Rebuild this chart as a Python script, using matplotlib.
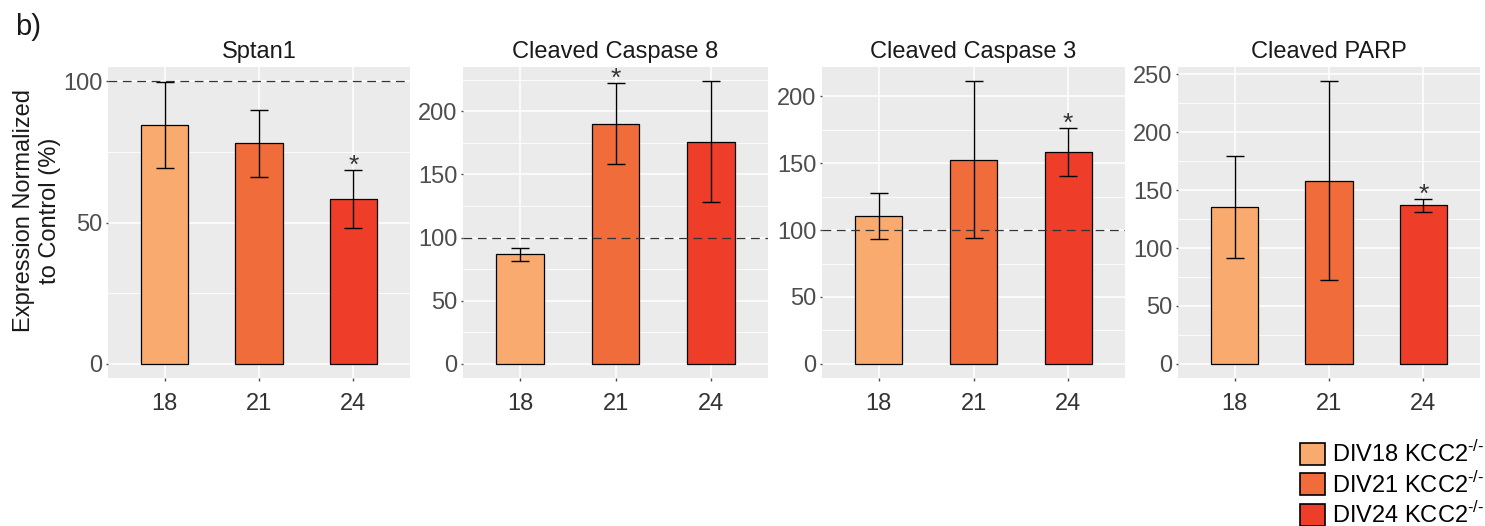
import numpy as np
import matplotlib.pyplot as plt
from matplotlib.patches import Patch
from matplotlib.ticker import MultipleLocator

plt.rcParams['font.family'] = ['Liberation Sans', 'DejaVu Sans']

days = ['18', '21', '24']
colors = ['#F9AA6E', '#F06C3A', '#EE3E2A']
legend_labels = ['DIV18 KCC2$^{\\mathregular{\u2010/\u2010}}$',
                 'DIV21 KCC2$^{\\mathregular{\u2010/\u2010}}$',
                 'DIV24 KCC2$^{\\mathregular{\u2010/\u2010}}$']

titles = ['Sptan1', 'Cleaved Caspase 8', 'Cleaved Caspase 3', 'Cleaved PARP']

# mean and SEM, % of control
sptan1_mean = [84.5, 78.0, 58.3]
sptan1_se = [15.2, 11.9, 10.2]
casp8_mean = [86.6, 190.2, 176.0]
casp8_se = [5.0, 31.8, 47.8]
casp3_mean = [110.4, 152.6, 158.3]
casp3_se = [17.1, 58.7, 18.2]
parp_mean = [135.5, 158.3, 136.9]
parp_se = [44.0, 85.8, 5.8]

means = [sptan1_mean, casp8_mean, casp3_mean, parp_mean]
ses = [sptan1_se, casp8_se, casp3_se, parp_se]
signif = [[False, False, True], [False, True, False], [False, False, True], [False, False, True]]
show_ref = [True, True, True, False]

W, H = 1485, 526
fig = plt.figure(figsize=(W / 100, H / 100), dpi=100)

panel_x = [(108, 410), (463, 768), (822, 1125), (1178, 1480)]
top, bottom = 67, 378

for k in range(4):
    x0, x1 = panel_x[k]
    ax = fig.add_axes([x0 / W, 1 - bottom / H, (x1 - x0) / W, (bottom - top) / H])
    ax.set_facecolor('#EBEBEB')
    for s in ax.spines.values():
        s.set_visible(False)

    m = np.array(means[k])
    e = np.array(ses[k])
    pos = np.arange(1, 4)

    ax.bar(pos, m, width=0.5, color=colors, edgecolor='black', linewidth=0.9, zorder=2)
    ax.errorbar(pos, m, yerr=e, fmt='none', ecolor='black', elinewidth=1.0,
                capsize=6.5, capthick=1.0, zorder=3)

    if show_ref[k]:
        ax.axhline(100, color='#333333', lw=0.9, dashes=(7, 4.5), zorder=4)

    for i in range(3):
        if signif[k][i]:
            ax.annotate('*', xy=(pos[i], m[i] + e[i]), xytext=(0, -2),
                        textcoords='offset points', ha='center', va='baseline',
                        fontsize=19, color='#333333')

    # ggplot-style 5% expansion of the data range
    lo = min(0, (m - e).min())
    hi = (m + e).max()
    if show_ref[k]:
        hi = max(hi, 100)
    span = hi - lo
    ax.set_ylim(lo - 0.05 * span, hi + 0.05 * span)
    ax.set_xlim(0.4, 3.6)

    ax.yaxis.set_major_locator(MultipleLocator(50))
    ax.yaxis.set_minor_locator(MultipleLocator(25))
    ax.set_xticks(pos)
    ax.set_xticklabels(days)
    ax.grid(which='major', color='white', lw=1.1, zorder=0)
    ax.grid(which='minor', axis='y', color='white', lw=0.6, zorder=0)
    ax.set_axisbelow(True)

    ax.tick_params(axis='y', which='major', length=1.5, width=1, color='#4D4D4D',
                   labelsize=17, labelcolor='#4D4D4D', pad=2.5)
    ax.tick_params(axis='x', which='major', length=2, width=1, color='#4D4D4D',
                   labelsize=17, labelcolor='#333333', pad=9)
    ax.tick_params(which='minor', length=0)

    ax.set_title(titles[k], fontsize=17, color='#1A1A1A', pad=6.5)

fig.text(15 / W, 1 - 35 / H, 'b)', fontsize=21, color='#1A1A1A', va='baseline')
fig.text(37 / W, 1 - 211 / H, 'Expression Normalized\nto Control (%)', rotation=90,
         ha='center', va='center', multialignment='center', fontsize=17, color='#1A1A1A')

handles = [Patch(facecolor=c, edgecolor='black', linewidth=1.2) for c in colors]
fig.legend(handles, legend_labels, loc='upper left', bbox_to_anchor=(1300 / W, 1 - 441 / H),
           frameon=False, fontsize=17, handlelength=1.06, handleheight=1.06,
           handletextpad=0.3, labelspacing=0.2, borderpad=0, borderaxespad=0)

fig.savefig('out.png', dpi=100)
